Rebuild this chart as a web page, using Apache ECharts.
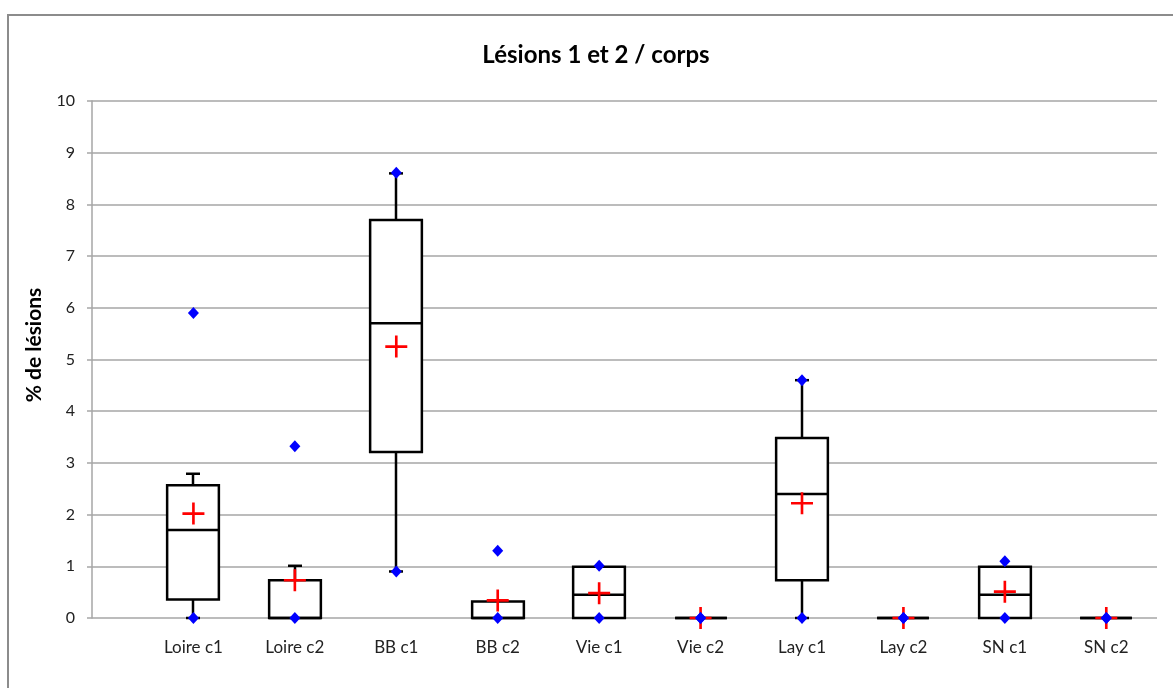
<!DOCTYPE html>
<html>
<head>
<meta charset="utf-8">
<script src="https://cdn.jsdelivr.net/npm/echarts@6/dist/echarts.min.js"></script>
<style>
html,body{margin:0;padding:0;background:#fff;}
#chart{width:1173px;height:688px;}
</style>
</head>
<body>
<div id="chart"></div>
<script>
// ---- data ----
var categories = ['Loire c1','Loire c2','BB c1','BB c2','Vie c1','Vie c2','Lay c1','Lay c2','SN c1','SN c2'];
var whiskerLow  = [0,    0,    0.9,  0,    0,    0, 0,    0, 0,    0];
var q1          = [0.36, 0,    3.21, 0,    0,    0, 0.73, 0, 0,    0];
var median      = [1.70, 0,    5.70, 0,    0.45, 0, 2.40, 0, 0.45, 0];
var q3          = [2.57, 0.73, 7.70, 0.32, 0.99, 0, 3.48, 0, 0.99, 0];
var whiskerHigh = [2.79, 1.01, 8.60, 0.32, 0.99, 0, 4.60, 0, 0.99, 0];
var means       = [2.02, 0.73, 5.25, 0.34, 0.48, 0, 2.22, 0, 0.51, 0];
var minVals     = [0,    0,    0.9,  0,    0,    0, 0,    0, 0,    0];
var maxVals     = [5.9,  3.32, 8.61, 1.30, 1.01, 0, 4.60, 0, 1.10, 0];
var yTicks = [0,1,2,3,4,5,6,7,8,9,10];

var FONT = 'Lato, "Liberation Sans", sans-serif';

var boxData = categories.map(function(c,i){
  return [i+1, whiskerLow[i], q1[i], median[i], q3[i], whiskerHigh[i]];
});
var meanData = categories.map(function(c,i){ return [i+1, means[i]]; });
var extremeData = [];
categories.forEach(function(c,i){
  extremeData.push([i+1, minVals[i]]);
  extremeData.push([i+1, maxVals[i]]);
});

function renderBox(params, api){
  var x = api.value(0);
  var pLow = api.coord([x, api.value(1)]);
  var pQ1 = api.coord([x, api.value(2)]);
  var pMed = api.coord([x, api.value(3)]);
  var pQ3 = api.coord([x, api.value(4)]);
  var pHigh = api.coord([x, api.value(5)]);
  var w = api.size([0.51, 0])[0];
  var cx = Math.round(pQ1[0]);
  var half = w/2;
  var cap = 7;
  var st = {stroke:'#000', lineWidth:2.5, fill:null};
  var children = [];
  if (api.value(5) > api.value(4)) {
    children.push({type:'line', shape:{x1:cx,y1:pQ3[1],x2:cx,y2:pHigh[1]}, style:st});
    children.push({type:'line', shape:{x1:cx-cap,y1:pHigh[1],x2:cx+cap,y2:pHigh[1]}, style:st});
  }
  if (api.value(1) < api.value(2)) {
    children.push({type:'line', shape:{x1:cx,y1:pQ1[1],x2:cx,y2:pLow[1]}, style:st});
    children.push({type:'line', shape:{x1:cx-cap,y1:pLow[1],x2:cx+cap,y2:pLow[1]}, style:st});
  }
  children.push({type:'rect', shape:{x:cx-half, y:pQ3[1], width:w, height:pQ1[1]-pQ3[1]},
    style:{stroke:'#000', lineWidth:2.5, fill:'#fff'}});
  children.push({type:'line', shape:{x1:cx-half,y1:pMed[1],x2:cx+half,y2:pMed[1]}, style:st});
  return {type:'group', children:children};
}

var chart = echarts.init(document.getElementById('chart'), null, {renderer:'canvas'});
chart.setOption({
  animation:false,
  backgroundColor:'#fff',
  title:{
    text:'Lésions 1 et 2 / corps',
    left:591, top:38, textAlign:'center',
    textStyle:{fontFamily:FONT, fontSize:24, fontWeight:'bold', color:'#000'}
  },
  grid:{left:92, right:16, top:101, bottom:70, containLabel:false},
  xAxis:{
    type:'value', min:0, max:10.5, interval:1,
    axisLine:{show:false}, axisTick:{show:false}, splitLine:{show:false},
    axisLabel:{
      margin:21, fontFamily:FONT, fontSize:17, color:'#222',
      showMaxLabel:false,
      formatter:function(v){ return (v>=1 && v<=10 && Math.round(v)===v) ? categories[v-1] : ''; }
    }
  },
  yAxis:{
    type:'value', min:yTicks[0], max:yTicks[yTicks.length-1], interval:1,
    axisLine:{show:true, lineStyle:{color:'#a6a6a6', width:1.5}},
    axisTick:{show:true, inside:false, length:5, lineStyle:{color:'#a6a6a6', width:1.5}},
    splitLine:{show:true, lineStyle:{color:'#a6a6a6', width:1.5}},
    axisLabel:{margin:17, fontFamily:FONT, fontSize:16, color:'#222'}
  },
  graphic:[
    {type:'rect', shape:{x:8, y:15, width:1300, height:800},
     style:{stroke:'#8c8c8c', lineWidth:2, fill:null}, z:-1},
    {type:'text', x:34, y:345, rotation:Math.PI/2,
     style:{text:'% de lésions', font:'bold 21px '+FONT, fill:'#000', textAlign:'center', textVerticalAlign:'middle'}}
  ],
  series:[
    {type:'custom', renderItem:renderBox, data:boxData, z:3,
     encode:{x:0, y:[1,2,3,4,5]}},
    {type:'scatter', data:meanData, z:4,
     symbol:'path://M8.8,0h2.4v20h-2.4zM0,8.8h20v2.4h-20z', symbolSize:[22,22],
     itemStyle:{color:'#ff0000', opacity:1}},
    {type:'scatter', data:extremeData, z:5,
     symbol:'diamond', symbolSize:[11,12],
     itemStyle:{color:'#0000ff', opacity:1}}
  ]
});
</script>
</body>
</html>
